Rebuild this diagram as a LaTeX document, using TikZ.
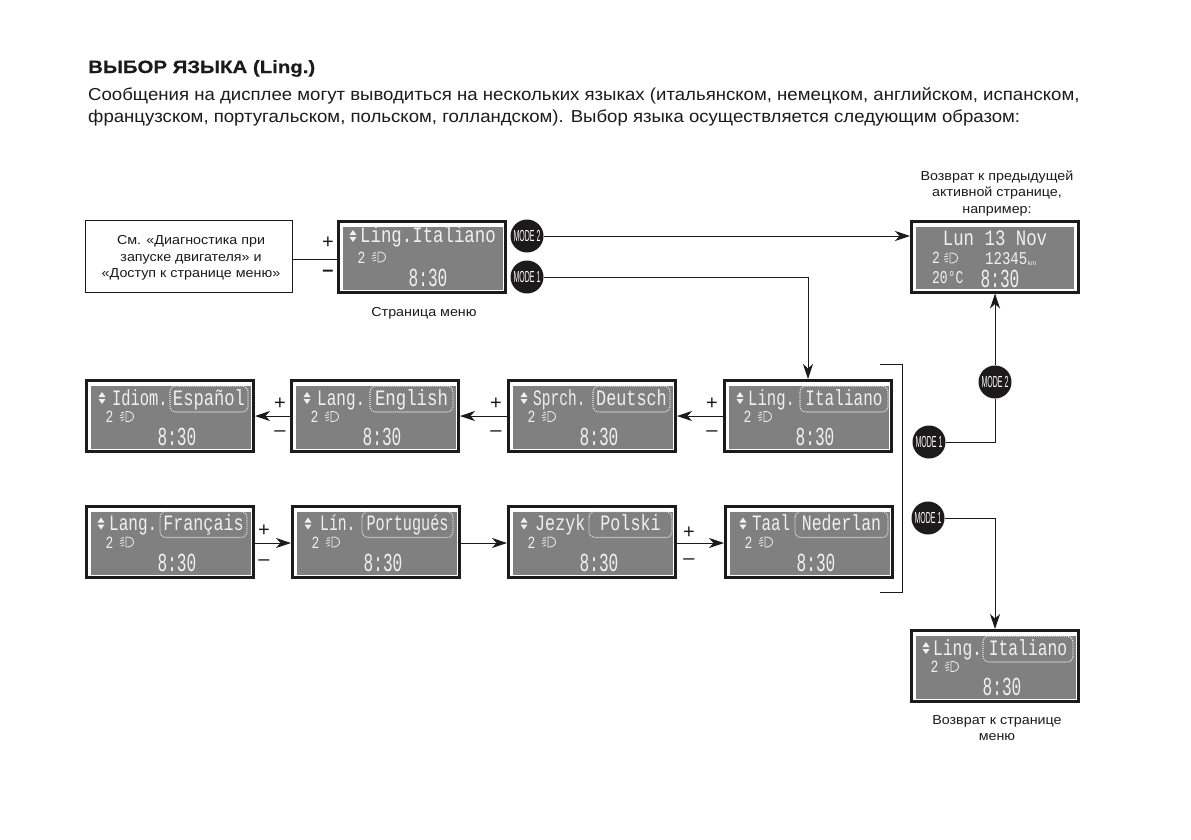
\documentclass[tikz,border=0pt]{standalone}
\usepackage{fontspec}
\usepackage{graphicx}
\setmainfont{Liberation Sans}
\newfontfamily\lcdfont{Liberation Mono}
\newfontfamily\capfont[FakeStretch=1.1]{Liberation Sans}
\newfontfamily\bodyfont[FakeStretch=1.075]{Liberation Sans}
\newfontfamily\titlefont[FakeStretch=1.146,BoldFeatures={FakeBold=0.4}]{Liberation Sans}
\usetikzlibrary{arrows.meta,calc}
\definecolor{ink}{HTML}{1C1A1B}
\definecolor{screen}{HTML}{808080}
\definecolor{lcdw}{HTML}{F0F0F0}
\tikzset{
  x=1pt,y=-1pt,
  lcdbox/.style={draw=ink,line width=3pt,minimum width=167pt,minimum height=71pt,inner sep=0,fill=white},
  gray screen/.style={fill=screen,minimum width=160pt,minimum height=63pt,inner sep=0},
  lcdlabel/.style={inner sep=0,text=lcdw,anchor=base west,font=\lcdfont\fontsize{22}{22}\selectfont},
  lcdvalue/.style={inner sep=0,text=lcdw,anchor=base,font=\lcdfont\fontsize{22}{22}\selectfont},
  lcdsmall/.style={inner sep=0,text=lcdw,font=\lcdfont\fontsize{18}{18}\selectfont},
  lcdtime/.style={inner sep=0,text=lcdw,font=\lcdfont\fontsize{26}{26}\selectfont},
  dotsbox/.style={draw=lcdw,line width=1.1pt,dash pattern=on .9pt off 1.1pt,rounded corners=6pt},
  con/.style={draw=ink,line width=1pt},
  arr/.style={con,-{Stealth[length=15pt,width=10pt,inset=4.5pt]}},
  btn/.style={circle,fill=ink,minimum size=33pt,inner sep=0,text=white,font=\fontsize{16}{16}\selectfont},
  signtxt/.style={inner sep=0,text=ink,font=\fontsize{20}{20}\selectfont},
  captxt/.style={inner sep=0,text=ink,align=center,font=\capfont\fontsize{13}{16.5}\selectfont},
  lampline/.style={draw=lcdw,line width=.8pt},
}
\newcommand{\lamp}[2]{%
  \draw[lampline] (#1-2,#2-5) .. controls (#1+8,#2-6) and (#1+8,#2+6) .. (#1-2,#2+5) -- cycle;
  \draw[lampline,line width=.8pt] (#1-4,#2-4.5) -- (#1-7,#2-3.5) (#1-4,#2-2) -- (#1-8,#2-1) (#1-4,#2+.5) -- (#1-8,#2+1.5) (#1-4,#2+3) -- (#1-7,#2+4);
}
\newcommand{\updown}[2]{%
  \fill[lcdw] (#1-3.5,#2-1) -- (#1,#2-6) -- (#1+3.5,#2-1) -- cycle;
  \fill[lcdw] (#1-3.5,#2+1) -- (#1,#2+6) -- (#1+3.5,#2+1) -- cycle;
}
% display base: name, cx, cy, dx of time
\newcommand{\lcdbase}[4]{%
  \node[lcdbox] (#1) at (#2,#3) {};
  \node[gray screen] (#1-s) at (#2+1,#3+1.5) {};
  \node[lcdsmall] (#1-g) at (#2-60.5,#3+1) {\scalebox{.72}[.95]{2}};
  \lamp{#2-42}{#3+.5}
  \node[lcdtime] (#1-t) at (#2+#4,#3+21) {\scalebox{.62}[1]{8:30}};
}
% select: name, cx, cy, icon dx, label dx, label, x1, x2, value
\newcommand{\lcdsel}[9]{%
  \updown{#2+#4}{#3-18}
  \node[lcdlabel] (#1-l) at (#2+#5,#3-11) {#6};
  \draw[dotsbox] (#2+#7,#3-30) rectangle (#2+#8,#3-4);
  \node[lcdvalue] (#1-v) at ({#2+(#7+#8)/2},#3-11) {#9};
}
\begin{document}
\begin{tikzpicture}
\useasboundingbox (0,0) rectangle (1191,839);
\fill[white] (0,0) rectangle (1191,839);
% heading
\node[inner sep=0,anchor=base west,text=ink,font=\titlefont\bfseries\fontsize{17.8}{17.8}\selectfont] (title) at (88,73) {ВЫБОР ЯЗЫКА (Ling.)};
\node[inner sep=0,anchor=base west,text=ink,font=\bodyfont\fontsize{17.3}{17.3}\selectfont] (line1) at (88,100) {Сообщения на дисплее могут выводиться на нескольких языках (итальянском, немецком, английском, испанском,};
\node[inner sep=0,anchor=base west,text=ink,font=\bodyfont\fontsize{17.3}{17.3}\selectfont] (line2) at (88,122) {французском, португальском, польском, голландском). Выбор языка осуществляется следующим образом:};
% left note
\node[draw=ink,line width=.9pt,minimum width=207pt,minimum height=72pt,inner sep=0] (note) at (188.5,256) {};
\node[inner sep=0,align=center,text=ink,font=\capfont\fontsize{13}{16.2}\selectfont] (note-t) at (191,258) {См. «Диагностика при\\запуске двигателя» и\\«Доступ к странице меню»};
% top menu display
\lcdbase{menu}{422}{256.5}{6}
\updown{353}{236}
\node[lcdlabel] (menu-l) at (360,242) {\scalebox{.79}[1]{Ling.Italiano}};
\node[captxt] (menucap) at (424,313) {Страница меню};
\draw[con] ([yshift=-3pt]note.east) -- ([yshift=-3pt]note.east -| menu.west);
\node[signtxt] (mp) at (328,243) {+};
\node[signtxt] (mm) at (328,273) {\textbf{–}};
% buttons top
\node[btn] (m2) at (527,236) {\scalebox{.44}[1]{MODE 2}};
\node[btn] (m1) at (527,277) {\scalebox{.44}[1]{MODE 1}};
% right top display
\node[lcdbox] (home) at (995,256.5) {};
\node[gray screen,minimum width=158pt,minimum height=62pt] (home-s) at (995,258) {};
\node[lcdvalue] (home-d) at (995,245) {\scalebox{.79}[1]{Lun 13 Nov}};
\node[lcdsmall,anchor=west] (home-g) at (932,258) {\scalebox{.72}[.95]{2}};
\lamp{952}{258}
\node[lcdsmall,anchor=west] (home-o) at (985,259) {\scalebox{.78}[1]{12345}};
\node[inner sep=0,anchor=base west,text=lcdw,font=\fontsize{6.5}{6.5}\selectfont] (home-k) at (1027.5,265) {km};
\node[lcdsmall,anchor=west] (home-c) at (932,278) {\scalebox{.72}[1]{20°C}};
\node[lcdtime] (home-t) at (1000,279) {\scalebox{.62}[1]{8:30}};
\node[captxt,anchor=south] (homecap) at (997,216) {Возврат к предыдущей\\активной странице,\\например:};
\draw[arr] (m2) -- (home.west |- m2);
% row 1
\lcdbase{ita}{808}{416}{7}
\lcdsel{ita}{808}{416}{-68}{-60}{\scalebox{.71}[1]{Ling.}}{-8}{80}{\scalebox{.73}[1]{Italiano}}
\lcdbase{deu}{592}{416}{7}
\lcdsel{deu}{592}{416}{-68}{-59}{\scalebox{.66}[1]{Sprch.}}{1}{78}{\scalebox{.765}[1]{Deutsch}}
\lcdbase{eng}{375}{416}{7}
\lcdsel{eng}{375}{416}{-68}{-58}{\scalebox{.73}[1]{Lang.}}{-5}{78}{\scalebox{.79}[1]{English}}
\lcdbase{esp}{170}{416}{7}
\lcdsel{esp}{170}{416}{-68}{-58}{\scalebox{.70}[1]{Idiom.}}{0}{78}{\scalebox{.78}[1]{Español}}
\draw[arr] (m1) -| (ita.north);
\draw[arr] (ita.west) -- (deu.east);
\draw[arr] (deu.west) -- (eng.east);
\draw[arr] (eng.west) -- (esp.east);
\node[signtxt] (p1) at (712,404) {+};
\node[signtxt] (n1) at (712,434) {–};
\node[signtxt] (p2) at (496,404) {+};
\node[signtxt] (n2) at (496,434) {–};
\node[signtxt] (p3) at (280,404) {+};
\node[signtxt] (n3) at (280,434) {–};
% row 2
\lcdbase{fra}{170}{541.5}{7}
\lcdsel{fra}{170}{541.5}{-69}{-61}{\scalebox{.73}[1]{Lang.}}{-10}{77}{\scalebox{.76}[1]{Français}}
\lcdbase{por}{376}{541.5}{7}
\lcdsel{por}{376}{541.5}{-68}{-56}{\scalebox{.67}[1]{Lín.}}{-14}{77}{\scalebox{.69}[1]{Portugués}}
\lcdbase{pol}{592}{541.5}{7}
\lcdsel{pol}{592}{541.5}{-68}{-57}{\scalebox{.76}[1]{Jezyk}}{-3}{80}{\scalebox{.76}[1]{Polski}}
\lcdbase{ned}{809}{541.5}{7}
\lcdsel{ned}{809}{541.5}{-66}{-57}{\scalebox{.72}[1]{Taal}}{-14}{79}{\scalebox{.75}[1]{Nederlan}}
\draw[arr] ([yshift=-1.5pt]fra.east) -- ([yshift=-1.5pt]por.west);
\draw[arr] ([yshift=-1.5pt]por.east) -- ([yshift=-1.5pt]pol.west);
\draw[arr] ([yshift=-1.5pt]pol.east) -- ([yshift=-1.5pt]ned.west);
\node[signtxt] (p4) at (264,531) {+};
\node[signtxt] (n4) at (264,563) {–};
\node[signtxt] (p5) at (689,533) {+};
\node[signtxt] (n5) at (689,562) {–};
% bracket
\coordinate (bt) at (880,364);
\coordinate (bb) at (880,592);
\draw[con] (bt) -- (902,364) -- (902,592) -- (bb);
% right buttons
\node[btn] (r2) at (995,382) {\scalebox{.44}[1]{MODE 2}};
\node[btn] (r1) at (929,442) {\scalebox{.44}[1]{MODE 1}};
\draw[con] (r1) -| (r2);
\draw[arr] (r2) -- (home.south);
% return
\node[btn] (r3) at (928,518) {\scalebox{.44}[1]{MODE 1}};
\lcdbase{back}{995}{666}{7}
\lcdsel{back}{995}{666}{-69}{-62}{\scalebox{.74}[1]{Ling.}}{-12}{78}{\scalebox{.74}[1]{Italiano}}
\draw[arr] (r3) -| (back.north);
\node[captxt] (backcap) at (997,728) {Возврат к странице\\меню};
\end{tikzpicture}
\end{document}
